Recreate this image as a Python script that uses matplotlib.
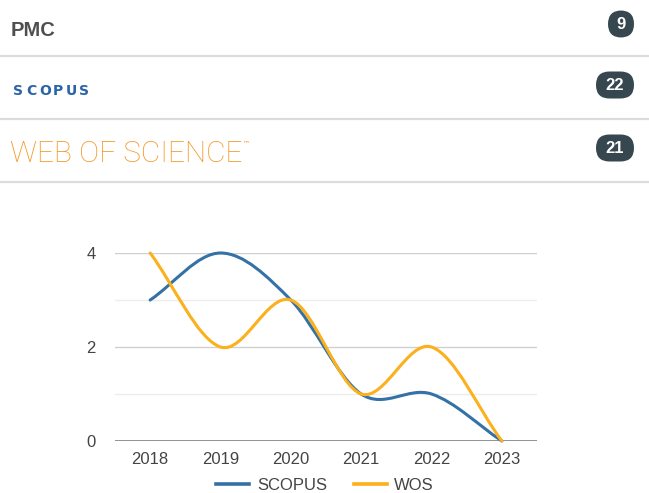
import numpy as np
import matplotlib
matplotlib.use("Agg")
import matplotlib.pyplot as plt
from matplotlib.path import Path
from matplotlib.patches import PathPatch, FancyBboxPatch
from matplotlib.lines import Line2D

# datos
years = [2018, 2019, 2020, 2021, 2022, 2023]
scopus = [3, 4, 3, 1, 1, 0]
wos = [4, 2, 3, 1, 2, 0]

sources = ["PMC", "SCOPUS", "WEB OF SCIENCE"]
counts = [9, 22, 21]

blue = "#3471a6"
orange = "#fbb01c"
badge = "#37474f"
font = "Liberation Sans"

W, H = 649, 493
fig = plt.figure(figsize=(W / 100, H / 100), dpi=100)

# capa en pixeles para la cabecera
top = fig.add_axes([0, 0, 1, 1])
top.set_xlim(0, W)
top.set_ylim(H, 0)
top.axis("off")

for py in [56, 119, 182]:
    top.plot([0, W], [py, py], color="#dcdcdc", lw=1.6)

top.text(11, 30, sources[0], fontsize=14.5, fontweight="bold", color="#4f4f4f",
         family=font, va="center")
for i, ch in enumerate(sources[1]):
    top.text(13 + i * 13.3, 91, ch, fontsize=10, fontweight="bold",
             color="#2a63a8", family="DejaVu Sans", va="center")
top.text(10, 154, sources[2], fontsize=21.5, fontweight="light",
         color="#f7941d", family="Roboto", va="center")
top.text(243, 143, "™", fontsize=5, color="#f7941d", va="center")

badge_y = [24, 85, 148]
for c, py in zip(counts, badge_y):
    s = str(c)
    w = 26 if len(s) == 1 else 38
    h = 27
    x0 = 634 - w
    top.add_patch(FancyBboxPatch((x0, py - h / 2), w, h,
                                 boxstyle="round,pad=0,rounding_size=13.5",
                                 facecolor=badge, edgecolor="none"))
    top.text(x0 + w / 2, py + 0.5, s, fontsize=12, fontweight="bold",
             color="white", ha="center", va="center", family=font)

# Grafico
ax = fig.add_axes([115 / W, 1 - 441 / H, 422 / W, (441 - 253) / H])


def smooth_path(x, y, k=0.5):
    x = np.asarray(x, float)
    y = np.asarray(y, float)
    n = len(x)
    d = np.zeros(n)
    for i in range(n):
        a = max(i - 1, 0)
        b = min(i + 1, n - 1)
        d[i] = (y[b] - y[a]) / (x[b] - x[a])
    verts = [(x[0], y[0])]
    codes = [Path.MOVETO]
    for i in range(n - 1):
        h = (x[i + 1] - x[i]) / 3
        verts += [(x[i] + h, y[i] + d[i] * h * 2 * k),
                  (x[i + 1] - h, y[i + 1] - d[i + 1] * h * 2 * k),
                  (x[i + 1], y[i + 1])]
        codes += [Path.CURVE4] * 3
    return Path(verts, codes)


for vals, col in [(scopus, blue), (wos, orange)]:
    ax.add_patch(PathPatch(smooth_path(years, vals, k=0.5), facecolor="none",
                           edgecolor=col, lw=2.2, clip_on=False, zorder=3,
                           capstyle="round"))

ax.set_xlim(2017.5, 2023.5)
ax.set_ylim(0, 4)
for v in [1, 3]:
    ax.axhline(v, color="#ececec", lw=1, zorder=1)
for v in [2, 4]:
    ax.axhline(v, color="#d0d0d0", lw=1, zorder=1)
ax.axhline(0, color="#8a8a8a", lw=1.3, zorder=2)

for s in ax.spines.values():
    s.set_visible(False)
ax.set_xticks(years)
ax.set_xticklabels([str(y) for y in years], family=font)
ax.set_yticks([0, 2, 4])
ax.set_yticklabels(["0", "2", "4"], family=font)
ax.tick_params(length=0, labelsize=12, labelcolor="#444444")
ax.tick_params(axis="x", pad=8)
ax.tick_params(axis="y", pad=14)

handles = [Line2D([], [], color=blue, lw=2.6), Line2D([], [], color=orange, lw=2.6)]
fig.legend(handles, ["SCOPUS", "WOS"], loc="center", bbox_to_anchor=(325 / W, 1 - 485 / H),
           ncol=2, frameon=False, prop={"family": font, "size": 12}, handlelength=2.0,
           columnspacing=1.6, handletextpad=0.45, labelcolor="#444444",
           borderaxespad=0, borderpad=0)

fig.savefig("out.png", dpi=100)
